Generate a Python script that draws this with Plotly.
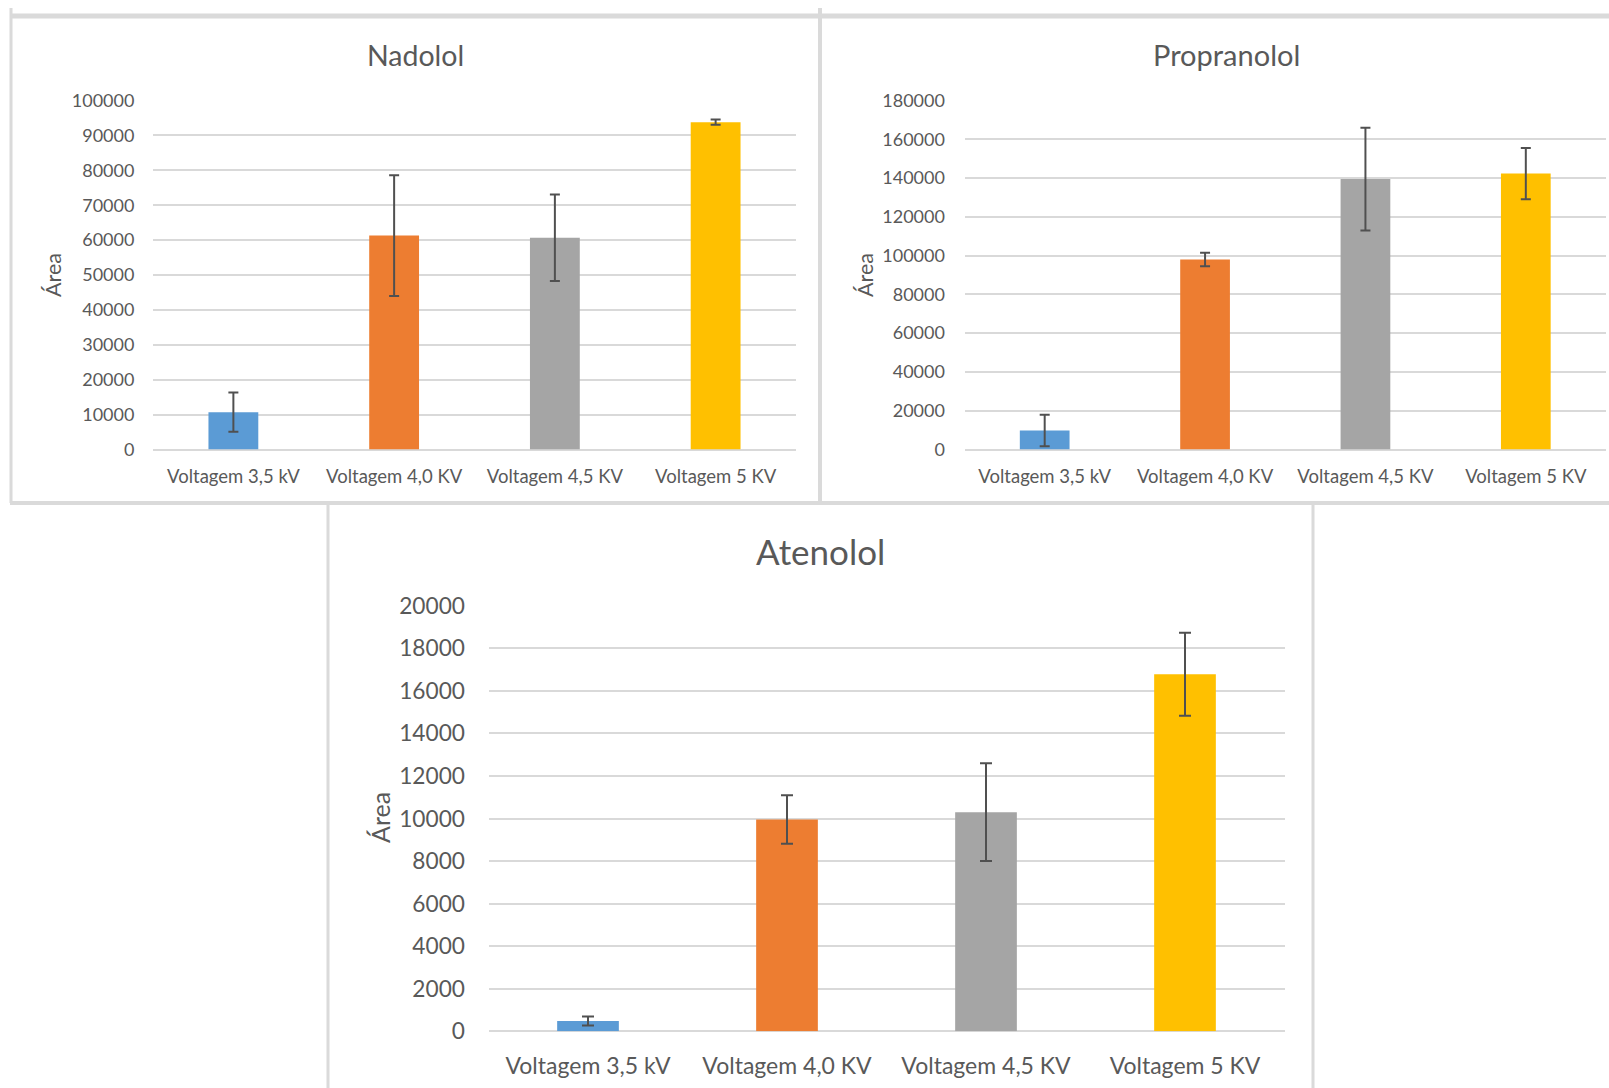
import plotly.graph_objects as go

# --- data -------------------------------------------------------------
categories = ["Voltagem 3,5 kV", "Voltagem 4,0 KV", "Voltagem 4,5 KV", "Voltagem 5 KV"]
bar_colors = ["#5B9BD5", "#ED7D31", "#A5A5A5", "#FFC000"]

nadolol_area = [10700, 61300, 60700, 93800]
nadolol_err = [5600, 17300, 12400, 750]

propranolol_area = [9800, 98000, 139500, 142300]
propranolol_err = [8100, 3500, 26500, 13200]

atenolol_area = [480, 9950, 10300, 16780]
atenolol_err = [210, 1140, 2300, 1950]

# --- page geometry (pixels) -------------------------------------------
W, H = 1609, 1088
FONT = "Lato"
TXT = "#595959"
GRID = "#D9D9D9"


def px(x):
    return x / W


def py(y):
    return 1 - y / H


fig = go.Figure()


def add_panel(idx, values, errors, cap):
    fig.add_trace(go.Bar(
        x=categories,
        y=values,
        marker=dict(color=bar_colors, line=dict(width=0)),
        error_y=dict(type="data", array=errors, visible=True,
                     color="#505050", thickness=2, width=cap),
        xaxis="x" if idx == 1 else f"x{idx}",
        yaxis="y" if idx == 1 else f"y{idx}",
        hoverinfo="skip",
        showlegend=False,
    ))


add_panel(1, nadolol_area, nadolol_err, 5)
add_panel(2, propranolol_area, propranolol_err, 5)
add_panel(3, atenolol_area, atenolol_err, 6)


def xaxis(domain, size, anchor, ticklen):
    return dict(domain=[px(domain[0]), px(domain[1])], anchor=anchor,
                type="category", showgrid=False, zeroline=False, showline=False,
                automargin=False,
                ticks="outside", ticklen=ticklen, tickcolor="rgba(0,0,0,0)",
                tickfont=dict(family=FONT, size=size, color=TXT), fixedrange=True)


def yaxis(domain, rng, dtick, size, anchor, ticklen):
    return dict(domain=[py(domain[1]), py(domain[0])], anchor=anchor,
                range=rng, dtick=dtick, tickformat="d", automargin=False,
                showgrid=True, gridcolor=GRID, gridwidth=2,
                zeroline=True, zerolinecolor=GRID, zerolinewidth=2,
                showline=False, ticks="outside", ticklen=ticklen,
                tickcolor="rgba(0,0,0,0)",
                tickfont=dict(family=FONT, size=size, color=TXT), fixedrange=True)


fig.update_layout(
    width=W, height=H, autosize=False,
    margin=dict(l=0, r=0, t=0, b=0, pad=0, autoexpand=False),
    paper_bgcolor="white", plot_bgcolor="white",
    bargap=0.69,
    xaxis=xaxis((153, 796), 18.5, "y", 10),
    yaxis=yaxis((100.5, 449.5), [0, 100000], 10000, 18, "x", 14),
    xaxis2=xaxis((964.5, 1606), 18.5, "y2", 10),
    yaxis2=yaxis((100.5, 449.5), [0, 180000], 20000, 18, "x2", 15),
    xaxis3=xaxis((488.5, 1284.5), 23, "y3", 14),
    yaxis3=yaxis((605.8, 1031.3), [0, 20000], 2000, 22.7, "x3", 18),
)

# chart titles
titles = [
    dict(text="Nadolol", x=415.5, y=55, size=28.5),
    dict(text="Propranolol", x=1226, y=55, size=29),
    dict(text="Atenolol", x=821, y=551, size=35),
]
for t in titles:
    fig.add_annotation(text=t["text"], x=px(t["x"]), y=py(t["y"]), xref="paper", yref="paper",
                       showarrow=False, xanchor="center", yanchor="middle",
                       font=dict(family=FONT, size=t["size"], color=TXT))

# vertical axis titles
for x, y, size in [(53, 275, 21.5), (865, 275, 21.5), (380, 818, 25)]:
    fig.add_annotation(text="Área", x=px(x), y=py(y), xref="paper", yref="paper",
                       showarrow=False, textangle=-90, xanchor="center", yanchor="middle",
                       font=dict(family=FONT, size=size, color=TXT))

# panel frames
frames = [
    ((10, 16), (W, 16), 5),
    ((11, 8), (11, 503), 3),
    ((820, 8), (820, 503), 4),
    ((10, 503), (W, 503), 4),
    ((328, 503), (328, H), 3),
    ((1313, 503), (1313, H), 3),
]
for (x0, y0), (x1, y1), w in frames:
    fig.add_shape(type="line", xref="paper", yref="paper",
                  x0=px(x0), y0=py(y0), x1=px(x1), y1=py(y1),
                  line=dict(color="#DADADA", width=w), layer="below")

fig.write_html("out.html")
